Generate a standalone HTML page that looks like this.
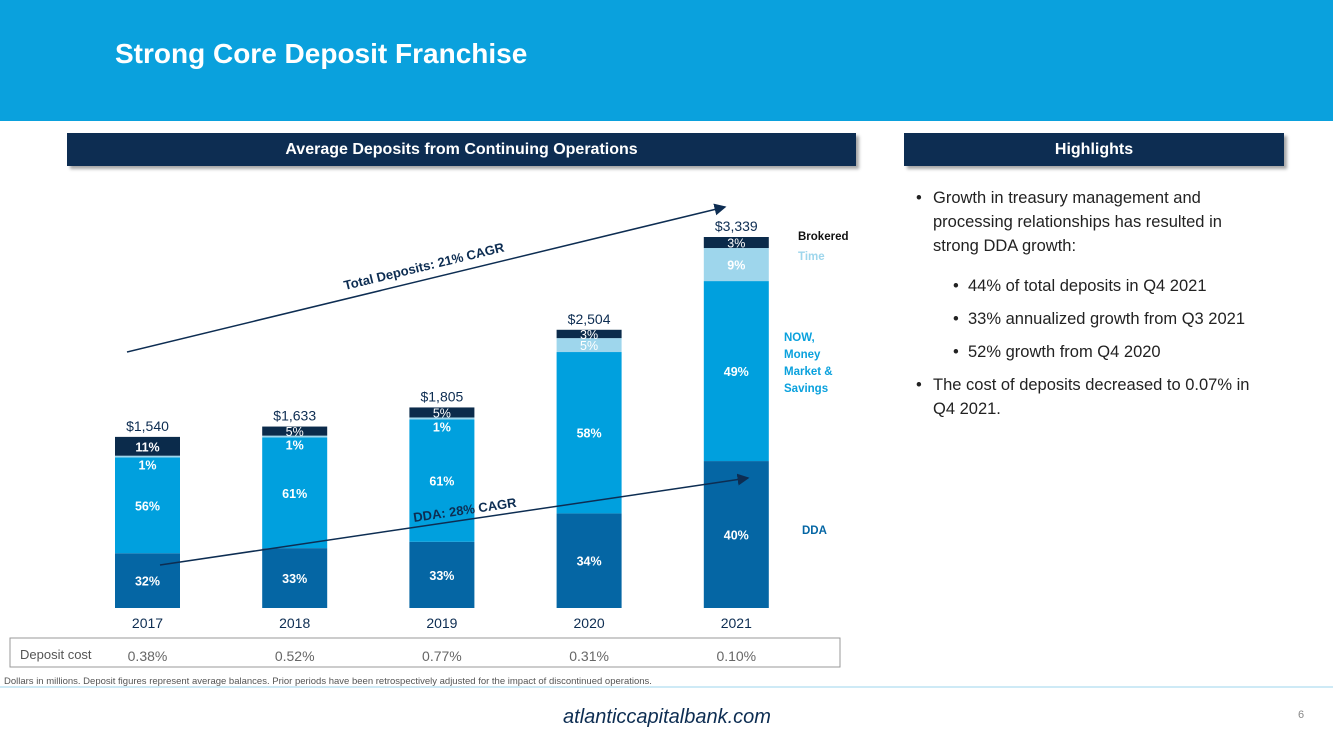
<!DOCTYPE html>
<html><head><meta charset="utf-8"><style>
body{margin:0;width:1333px;height:749px;position:relative;overflow:hidden;background:#fff;font-family:"Liberation Sans",sans-serif}
.abs{position:absolute}
.hdr{background:#0d2d52;color:#fff;font-weight:bold;font-size:16px;text-align:center;line-height:33px;box-shadow:3px 3px 3px rgba(0,0,0,.35)}
.hl{font-size:16.5px;color:#222;line-height:24px}
.b1{position:relative;padding-left:17px;width:330px}
.b1:before{content:"•";position:absolute;left:0;top:0}
.b2{position:relative;padding-left:52px;margin-top:9px}
.b2:before{content:"•";position:absolute;left:37px;top:0}
</style></head><body>
<div class="abs" style="left:0;top:0;width:1333px;height:121px;background:#0aa1dd"></div>
<div class="abs" style="left:115px;top:38px;color:#fff;font-weight:bold;font-size:28px">Strong Core Deposit Franchise</div>
<div class="abs hdr" style="left:67px;top:133px;width:789px;height:33px">Average Deposits from Continuing Operations</div>
<div class="abs hdr" style="left:904px;top:133px;width:380px;height:33px">Highlights</div>
<div class="abs hl" style="left:916px;top:186px;width:380px">
<div class="b1">Growth in treasury management and processing relationships has resulted in strong DDA growth:</div>
<div class="b2" style="margin-top:16px">44% of total deposits in Q4 2021</div>
<div class="b2">33% annualized growth from Q3 2021</div>
<div class="b2">52% growth from Q4 2020</div>
<div class="b1" style="margin-top:9px">The cost of deposits decreased to 0.07% in Q4 2021.</div>
</div>
<svg class="abs" style="left:0;top:0" width="1333" height="749">
<defs><marker id="ar" markerWidth="8" markerHeight="8" refX="7" refY="4" orient="auto"><path d="M0,0L8,4L0,8z" fill="#0d2d52"/></marker></defs>
<g id="bars"></g>
<line x1="127" y1="352" x2="725" y2="207" stroke="#0d2d52" stroke-width="1.5" marker-end="url(#ar)"/>
<text x="345" y="290" transform="rotate(-13.6 345 290)" font-size="13" font-weight="bold" fill="#0d2d52">Total Deposits: 21% CAGR</text>
<line x1="160" y1="565" x2="748" y2="478" stroke="#0d2d52" stroke-width="1.5" marker-end="url(#ar)"/>
<text x="414" y="522" transform="rotate(-8.4 414 522)" font-size="13" font-weight="bold" fill="#0d2d52">DDA: 28% CAGR</text>
<text x="798" y="240" font-size="11.5" font-weight="bold" fill="#111">Brokered</text>
<text x="798" y="260" font-size="11.5" font-weight="bold" fill="#9ed6ec">Time</text>
<g font-size="11.5" font-weight="bold" fill="#0aa1dd"><text x="784" y="341">NOW,</text><text x="784" y="358">Money</text><text x="784" y="375">Market &amp;</text><text x="784" y="392">Savings</text></g>
<text x="802" y="534" font-size="11.5" font-weight="bold" fill="#0566a4">DDA</text>
<rect x="10" y="638" width="830" height="29" fill="none" stroke="#999"/>
<text x="20" y="659" font-size="13" fill="#555">Deposit cost</text>
<g id="costs"></g>
<text x="4" y="684" font-size="9.5" fill="#555">Dollars in millions. Deposit figures represent average balances. Prior periods have been retrospectively adjusted for the impact of discontinued operations.</text>
<line x1="0" y1="687" x2="1333" y2="687" stroke="#9ed6ec" stroke-width="1"/>
<text x="667" y="723" text-anchor="middle" font-size="20" font-style="italic" fill="#0d2d52">atlanticcapitalbank.com</text>
<text x="1298" y="718" font-size="11" fill="#888">6</text>
</svg>
<script>
const years=['2017','2018','2019','2020','2021'];
const totals=[1540,1633,1805,2504,3339];
const ddaPct=[32,33,33,34,40];
const nowPct=[56,61,61,58,49];
const timePct=[1,1,1,5,9];
const brokeredPct=[11,5,5,3,3];
const costs=['0.38%','0.52%','0.77%','0.31%','0.10%'];
const base=608, scale=371/3339, x0=115, step=147.2, bw=65;
const yS=v=>v*scale, xS=i=>x0+i*step;
const NS='http://www.w3.org/2000/svg';
const g=document.getElementById('bars'), cg=document.getElementById('costs');
function el(t,a,p){const e=document.createElementNS(NS,t);for(const k in a)e.setAttribute(k,a[k]);p.appendChild(e);return e;}
const segs=[[ddaPct,'#0566a4','dda'],[nowPct,'#00a0de','now'],[timePct,'#9ed6ec','time'],[brokeredPct,'#0b2b4b','brokered']];
years.forEach((yr,i)=>{
  const tot=totals[i], sum=ddaPct[i]+nowPct[i]+timePct[i]+brokeredPct[i];
  let y=base; const x=xS(i);
  segs.forEach(([arr,col,nm],k)=>{
    const h=yS(tot)*arr[i]/sum;
    const r=el('rect',{x:x,y:y-h,width:bw,height:h,fill:col},g);
    
    
    let ty=y-h/2+5, bold=true, fs='12.5';
    if(h<8){ty=y-h+14;}
    else if(h<15){bold=false;fs='12.5';ty=y-h/2+5;}
    const t=el('text',{x:x+bw/2,y:ty,'text-anchor':'middle','font-size':fs,'font-weight':bold?'bold':'normal',fill:'#fff'},g);
    t.textContent=arr[i]+'%';
    
    
    y-=h;
  });
  const tt=el('text',{x:x+bw/2,y:y-6,'text-anchor':'middle','font-size':'14',fill:'#0d2d52'},g);
  tt.textContent='$'+tot.toLocaleString('en-US');
  
  
  const yl=el('text',{x:x+bw/2,y:628,'text-anchor':'middle','font-size':'14',fill:'#0d2d52'},g);
  yl.textContent=yr;
  
  
  const c=el('text',{x:x+bw/2,y:661,'text-anchor':'middle','font-size':'14',fill:'#666'},cg);
  c.textContent=costs[i];
  
  
});
</script>
</body></html>
